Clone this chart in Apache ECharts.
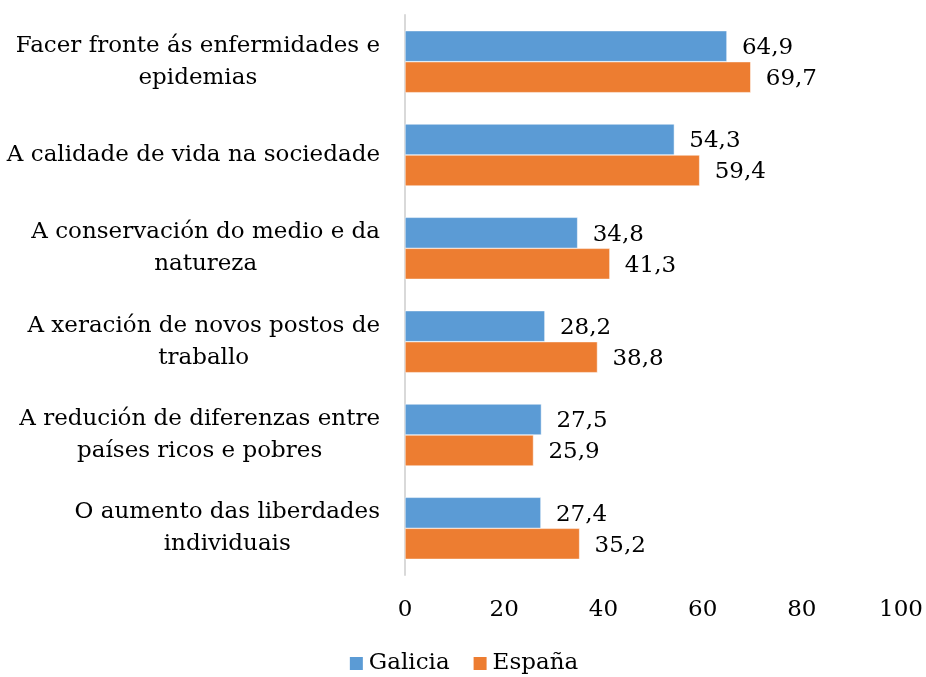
<!DOCTYPE html>
<html>
<head>
<meta charset="utf-8">
<script src="https://cdn.jsdelivr.net/npm/echarts@6/dist/echarts.min.js"></script>
<style>
  html, body { margin: 0; padding: 0; background: #fff; }
  #chart { width: 926px; height: 677px; }
</style>
</head>
<body>
<div id="chart"></div>
<script>
// categorías (de arriba a abajo)
var categories = [
  'Facer fronte ás enfermidades e\nepidemias',
  'A calidade de vida na sociedade',
  'A conservación do medio e da\nnatureza',
  'A xeración de novos postos de\ntraballo',
  'A redución de diferenzas entre\npaíses ricos e pobres',
  'O aumento das liberdades\nindividuais'
];
var galicia = [64.9, 54.3, 34.8, 28.2, 27.5, 27.4];
var espana = [69.7, 59.4, 41.3, 38.8, 25.9, 35.2];
var xTicks = [0, 20, 40, 60, 80, 100];

var FONT = 'DejaVu Serif';
var FS = 23;

var chart = echarts.init(document.getElementById('chart'));

function fmtComma(p) {
  return String(p.value.toFixed(1)).replace('.', ',');
}

chart.setOption({
  animation: false,
  textStyle: { fontFamily: FONT },
  grid: { left: 405, right: 21, top: 15, bottom: 102, containLabel: false },
  legend: {
    bottom: -3,
    left: 'center',
    itemWidth: 15,
    itemHeight: 15,
    itemGap: 22,
    itemTextGap: 5,
    icon: 'rect',
    textStyle: { fontFamily: FONT, fontSize: FS, color: '#000' },
    data: ['Galicia', 'España']
  },
  xAxis: {
    type: 'value',
    min: xTicks[0],
    max: xTicks[xTicks.length - 1],
    interval: 20,
    axisLine: { show: false },
    axisTick: { show: false },
    splitLine: { show: false },
    axisLabel: { fontFamily: FONT, fontSize: FS, color: '#000', margin: 24 }
  },
  yAxis: {
    type: 'category',
    inverse: true,
    data: categories,
    axisLine: { show: true, lineStyle: { color: '#d9d9d9', width: 2 } },
    axisTick: { show: false },
    axisLabel: {
      margin: 25,
      color: '#000',
      fontFamily: FONT,
      fontSize: FS,
      lineHeight: 32,
      formatter: function (v) {
        return v.split('\n').map(function (l) { return '{c|' + l + '}'; }).join('\n');
      },
      rich: {
        c: { align: 'center', fontFamily: FONT, fontSize: FS, lineHeight: 32, color: '#000' }
      }
    }
  },
  series: [
    {
      name: 'Galicia',
      type: 'bar',
      data: galicia,
      barWidth: 31,
      barGap: '0%',
      itemStyle: { color: '#5b9bd5', borderColor: '#fff', borderWidth: 0.5 },
      label: {
        show: true, position: 'right', distance: 15, offset: [0, 2],
        fontFamily: FONT, fontSize: FS, color: '#000',
        formatter: fmtComma
      }
    },
    {
      name: 'España',
      type: 'bar',
      data: espana,
      barWidth: 31,
      barGap: '0%',
      itemStyle: { color: '#ed7d31', borderColor: '#fff', borderWidth: 0.5 },
      label: {
        show: true, position: 'right', distance: 15, offset: [0, 2],
        fontFamily: FONT, fontSize: FS, color: '#000',
        formatter: fmtComma
      }
    }
  ]
});
</script>
</body>
</html>
